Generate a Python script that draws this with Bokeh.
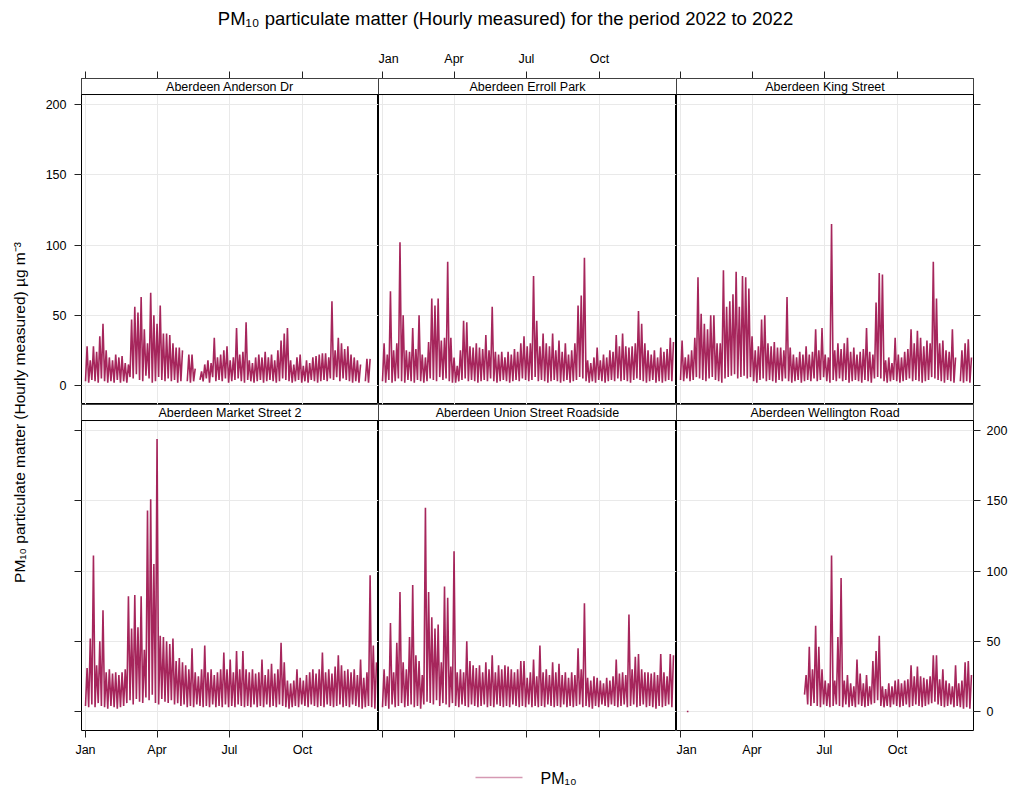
import math
from bokeh.plotting import figure
from bokeh.layouts import column, row
from bokeh.models import Range1d, LinearAxis, FixedTicker, Grid, Span
from bokeh.core.properties import value
from bokeh.embed import file_html
from bokeh.resources import INLINE

N = float("nan")

# ---------------- data ----------------
# Each list: one value per 4-day window of 2022 (92 windows).
# *_hi = highest hourly value in the window, *_lo = low level in the window.
site_names = ["Aberdeen Anderson Dr", "Aberdeen Erroll Park", "Aberdeen King Street",
              "Aberdeen Market Street 2", "Aberdeen Union Street Roadside", "Aberdeen Wellington Road"]

anderson_hi = [28, 18, 28, 24, 35, 44, 25, 20, 18, 22,
               20, 21, 16, 15, 47, 56, 52, 63, 40, 30,
               66, 50, 44, 57, 37, 37, 36, 30, 27, 27,
               25, N, 22, 22, 12, N, 10, 15, 18, 16,
               34, 20, 22, 25, 28, 18, 20, 41, 22, 24,
               45, 18, 16, 20, 22, 20, 24, 20, 22, 18,
               25, 32, 37, 41, 18, 15, 20, 22, 14, 18,
               16, 20, 21, 22, 23, 23, 20, 60, 25, 34,
               30, 26, 28, 22, 20, 18, 15, N, 19, 19,
               N, N]
anderson_lo = [3, 2, 4, 3, 2, 5, 3, 2, 3, 2,
               4, 2, 3, 2, 6, 5, 8, 4, 3, 7,
               5, 2, 3, 6, 4, 3, 5, 3, 4, 2,
               3, N, 3, 2, 3, N, 4, 3, 5, 2,
               6, 3, 4, 3, 5, 2, 3, 4, 5, 3,
               2, 4, 3, 2, 3, 4, 2, 3, 4, 3,
               2, 3, 5, 4, 3, 2, 3, 4, 2, 3,
               2, 4, 3, 2, 3, 4, 3, 5, 4, 6,
               3, 5, 4, 3, 2, 3, 2, N, 3, 2,
               N, N]

erroll_hi = [30, 22, 67, 25, 30, 102, 50, 25, 24, 41,
             26, 50, 22, 20, 31, 62, 57, 62, 32, 34,
             88, 34, 20, 14, 25, 46, 45, 28, 27, 30,
             27, 26, 36, 25, 56, 24, 22, 24, 20, 24,
             22, 26, 24, 30, 35, 28, 30, 78, 46, 28,
             37, 30, 28, 37, 25, 32, 24, 30, 22, 25,
             30, 57, 64, 91, 18, 16, 20, 27, 18, 22,
             20, 25, 24, 36, 28, 37, 28, 27, 28, 30,
             53, 44, 30, 25, 22, 25, 20, 27, 24, 26,
             34, 31]
erroll_lo = [3, 2, 4, 2, 3, 5, 3, 2, 4, 3,
             2, 4, 3, 2, 3, 5, 4, 3, 6, 4,
             5, 3, 2, 2, 3, 4, 5, 3, 4, 3,
             2, 3, 4, 3, 5, 3, 2, 3, 4, 3,
             2, 3, 4, 3, 5, 4, 3, 4, 6, 3,
             4, 3, 2, 3, 4, 3, 2, 3, 4, 2,
             3, 4, 6, 5, 3, 2, 3, 2, 4, 3,
             2, 3, 4, 3, 5, 3, 4, 3, 2, 4,
             5, 4, 3, 2, 3, 4, 2, 3, 2, 3,
             4, 3]

king_hi = [32, 20, 22, 25, 34, 77, 51, 44, 40, 50,
           50, 30, 30, 82, 56, 60, 65, 81, 56, 78,
           77, 69, 35, 25, 28, 47, 50, 30, 28, 31,
           27, 27, 25, 63, 27, 22, 20, 24, 22, 28,
           22, 24, 40, 25, 41, 22, 20, 115, 25, 30,
           26, 30, 34, 24, 27, 22, 24, 26, 41, 24,
           22, 59, 80, 79, 18, 20, 16, 34, 22, 20,
           24, 26, 40, 30, 39, 34, 28, 32, 30, 88,
           62, 30, 32, 25, 24, 40, 20, N, 25, 30,
           33, 20]
king_lo = [4, 3, 5, 3, 4, 6, 5, 4, 3, 5,
           6, 4, 3, 2, 5, 6, 7, 8, 5, 6,
           7, 5, 6, 3, 2, 4, 5, 3, 4, 3,
           2, 4, 3, 5, 3, 2, 3, 4, 2, 3,
           4, 3, 5, 3, 4, 6, 3, 2, 4, 3,
           5, 3, 4, 2, 3, 4, 3, 2, 4, 3,
           2, 5, 6, 5, 3, 2, 3, 4, 3, 2,
           3, 4, 5, 3, 4, 3, 2, 3, 4, 6,
           5, 4, 3, 2, 4, 3, 2, N, 3, 2,
           3, 2]

market_hi = [31, 52, 111, 33, 50, 72, 28, 30, 27, 28,
             26, 28, 30, 82, 59, 83, 60, 82, 44, 143,
             151, 105, 194, 54, 53, 50, 48, 52, 36, 38,
             35, 33, 30, 45, 28, 25, 30, 47, 28, 30,
             26, 28, 30, 42, 30, 37, 28, 43, 30, 43,
             30, 28, 30, 27, 28, 37, 26, 30, 34, 27,
             30, 49, 35, 22, 20, 22, 30, 24, 22, 26,
             28, 30, 27, 30, 42, 28, 30, 27, 32, 40,
             33, 29, 30, 28, 30, 26, 37, 24, 28, 97,
             47, 35]
market_lo = [4, 3, 5, 3, 6, 4, 3, 2, 4, 3,
             2, 3, 4, 6, 8, 5, 9, 7, 6, 10,
             8, 12, 6, 5, 9, 7, 6, 8, 5, 6,
             4, 5, 3, 4, 3, 5, 4, 3, 4, 3,
             5, 3, 4, 3, 5, 3, 4, 3, 5, 4,
             3, 4, 3, 5, 3, 4, 3, 5, 3, 4,
             3, 5, 4, 3, 2, 3, 4, 3, 5, 4,
             3, 5, 4, 3, 4, 3, 5, 4, 3, 4,
             5, 3, 4, 3, 5, 4, 3, 2, 3, 4,
             3, 2]

union_hi = [30, 25, 63, 28, 49, 85, 35, 30, 53, 90,
            40, 36, 26, 145, 85, 67, 59, 62, 35, 89,
            81, 32, 114, 28, 30, 28, 50, 36, 33, 31,
            33, 28, 35, 30, 40, 28, 33, 30, 33, 32,
            30, 28, 30, 36, 36, 24, 28, 37, 25, 47,
            28, 30, 26, 35, 28, 34, 26, 28, 24, 28,
            26, 45, 30, 77, 24, 22, 25, 24, 22, 20,
            24, 22, 25, 37, 27, 28, 26, 69, 30, 39,
            41, 30, 28, 28, 27, 28, 26, 41, 28, 25,
            41, 40]
union_lo = [3, 4, 2, 5, 3, 4, 6, 3, 4, 5,
            3, 4, 2, 5, 7, 6, 5, 8, 4, 6,
            5, 3, 6, 4, 3, 5, 4, 3, 5, 4,
            3, 4, 5, 3, 4, 3, 5, 4, 3, 4,
            3, 5, 4, 3, 4, 3, 5, 3, 4, 3,
            4, 3, 5, 4, 3, 4, 3, 5, 3, 4,
            3, 4, 5, 3, 4, 3, 2, 4, 3, 5,
            4, 3, 5, 4, 3, 4, 5, 3, 4, 5,
            3, 4, 5, 3, 4, 3, 2, 4, 3, 4,
            5, 3]

wellington_hi = [N, N, 0, N, N, N, N, N, N, N,
                 N, N, N, N, N, N, N, N, N, N,
                 N, N, N, N, N, N, N, N, N, N,
                 N, N, N, N, N, N, N, N, N, 26,
                 46, 30, 61, 46, 30, 22, 20, 111, 22, 53,
                 95, 22, 26, 20, 18, 37, 27, 20, 26, 18,
                 36, 43, 54, 18, 16, 20, 18, 22, 23, 20,
                 22, 23, 33, 25, 32, 25, 24, 23, 25, 40,
                 40, 23, 30, 22, 20, 18, 33, 20, 22, 35,
                 36, 26]
wellington_lo = [N, N, 0, N, N, N, N, N, N, N,
                 N, N, N, N, N, N, N, N, N, N,
                 N, N, N, N, N, N, N, N, N, N,
                 N, N, N, N, N, N, N, N, N, 12,
                 5, 4, 6, 4, 3, 5, 4, 3, 4, 5,
                 4, 3, 5, 3, 4, 3, 5, 4, 3, 4,
                 5, 6, 8, 4, 3, 4, 3, 5, 4, 3,
                 4, 5, 3, 4, 5, 4, 3, 4, 5, 6,
                 7, 5, 4, 3, 4, 5, 3, 4, 3, 2,
                 3, 2]

window_days = 4
tick_days = [0, 90, 181, 273]          # Jan 1, Apr 1, Jul 1, Oct 1 2022 (day of year)
tick_labels = ["Jan", "Apr", "Jul", "Oct"]
y_ticks = [0, 50, 100, 150, 200]

title_text = "PM\u2081\u2080 particulate matter (Hourly measured) for the period 2022 to 2022"
ylab_text = "PM\u2081\u2080 particulate matter (Hourly measured) \u00b5g m\u207b\u00b3"
legend_text = "PM\u2081\u2080"

panels = [(site_names[0], anderson_lo, anderson_hi),
          (site_names[1], erroll_lo, erroll_hi),
          (site_names[2], king_lo, king_hi),
          (site_names[3], market_lo, market_hi),
          (site_names[4], union_lo, union_hi),
          (site_names[5], wellington_lo, wellington_hi)]

# ---------------- styling ----------------
FONT = "Liberation Sans"
LINE_COL = "#960040"
GRID_COL = "#e9e9e9"
FRAME_H = 326
FRAME_W = [297, 298, 297]
PX_PER_DAY = 0.795
X0 = -5.03
Y0, Y1 = -13.5, 218.5
STRIP_Y = 207.1
YLAB_W = 30
TITLE_H = 40
TICK_FONT = "12.5px"


def series(lo, hi):
    assert len(lo) == len(hi) == 92
    xs, ys = [], []
    for i, (a, b) in enumerate(zip(lo, hi)):
        xs += [i * window_days, i * window_days + window_days / 2]
        ys += [a, b]
    return xs, ys


def style_axis(ax, labels_on, standoff):
    ax.axis_line_color = None
    ax.major_tick_out = 7
    ax.major_tick_in = 0
    ax.minor_tick_out = 0
    ax.minor_tick_in = 0
    ax.major_tick_line_color = "#222222"
    ax.major_label_standoff = standoff
    ax.major_label_text_font = FONT
    ax.major_label_text_font_size = TICK_FONT
    ax.major_label_text_color = "black"
    if not labels_on:
        ax.major_label_text_alpha = 0


def make_panel(k):
    name, lo, hi = panels[k]
    col, rw = k % 3, k // 3
    fw = FRAME_W[col]
    x1 = X0 + fw / PX_PER_DAY
    left = 51 if col == 0 else 0
    right = 37 if col == 2 else 0
    top = 38 if rw == 0 else 0
    bottom = 30 if rw == 1 else 0
    p = figure(width=fw + left + right, height=FRAME_H + top + bottom,
               x_range=Range1d(X0, x1), y_range=Range1d(Y0, Y1),
               output_backend="svg", toolbar_location=None,
               x_axis_location=None, y_axis_location=None,
               min_border_left=left, min_border_right=right,
               min_border_top=top, min_border_bottom=bottom)
    p.center = []
    p.add_layout(Grid(dimension=0, ticker=FixedTicker(ticks=tick_days),
                      grid_line_color=GRID_COL, grid_line_width=1))
    p.add_layout(Grid(dimension=1, ticker=FixedTicker(ticks=y_ticks),
                      grid_line_color=GRID_COL, grid_line_width=1))
    p.outline_line_color = "black"
    p.outline_line_width = 1
    p.background_fill_color = "white"
    p.border_fill_color = "white"

    xs, ys = series(lo, hi)
    p.line(xs, ys, line_color=LINE_COL, line_alpha=0.85, line_width=1.6)

    # strip with the site name
    p.quad(left=[X0], right=[x1], bottom=[STRIP_Y], top=[Y1],
           fill_color="white", line_color=None)
    p.add_layout(Span(location=STRIP_Y, dimension="width", line_color="black", line_width=1))
    p.text(x=[(X0 + x1) / 2], y=[(STRIP_Y + Y1) / 2], text=[name],
           text_align="center", text_baseline="middle",
           text_font=value(FONT), text_font_size="12.5px", text_color="black")

    # x axis (above for top row, below for bottom row)
    xax = LinearAxis(ticker=FixedTicker(ticks=tick_days),
                     major_label_overrides={d: l for d, l in zip(tick_days, tick_labels)})
    if rw == 0:
        style_axis(xax, col == 1, 6)
        p.add_layout(xax, "above")
    else:
        style_axis(xax, col != 1, 5)
        p.add_layout(xax, "below")

    # y axis
    yax = LinearAxis(ticker=FixedTicker(ticks=y_ticks))
    if col == 0:
        style_axis(yax, rw == 0, 8)
        p.add_layout(yax, "left")
    elif col == 2:
        style_axis(yax, rw == 1, 6)
        p.add_layout(yax, "right")
    return p


figs = [make_panel(k) for k in range(6)]

TOTAL_W = YLAB_W + (51 + 297) + 298 + (297 + 37)


def blank(w, h):
    f = figure(width=w, height=h, x_range=Range1d(0, w), y_range=Range1d(0, h),
               output_backend="svg", toolbar_location=None,
               x_axis_location=None, y_axis_location=None, min_border=0)
    f.min_border_left = f.min_border_right = f.min_border_top = f.min_border_bottom = 0
    f.center = []
    f.outline_line_color = None
    f.border_fill_color = "white"
    f.background_fill_color = "white"
    return f


title_fig = blank(TOTAL_W, TITLE_H)
title_fig.text(x=[505], y=[TITLE_H - 18], text=[title_text], text_align="center", text_baseline="middle",
               text_font=value(FONT), text_font_size="18.5px", text_color="black")

ylab_fig = blank(YLAB_W, 720)
ylab_fig.text(x=[19], y=[720 - (412 - TITLE_H)], text=[ylab_text], angle=math.pi / 2,
              text_align="center", text_baseline="middle",
              text_font=value(FONT), text_font_size="15.5px", text_color="black")

legend_fig = blank(TOTAL_W, 28)
legend_fig.line([475, 522], [11, 11], line_color=LINE_COL, line_alpha=0.4, line_width=1.5)
legend_fig.text(x=[540], y=[10], text=[legend_text], text_align="left", text_baseline="middle",
                text_font=value(FONT), text_font_size="16px", text_color="black")

grid_block = column(row(figs[0], figs[1], figs[2]), row(figs[3], figs[4], figs[5]))
layout = column(title_fig, row(ylab_fig, grid_block), legend_fig)

open("out.html", "w").write(file_html(layout, INLINE))
